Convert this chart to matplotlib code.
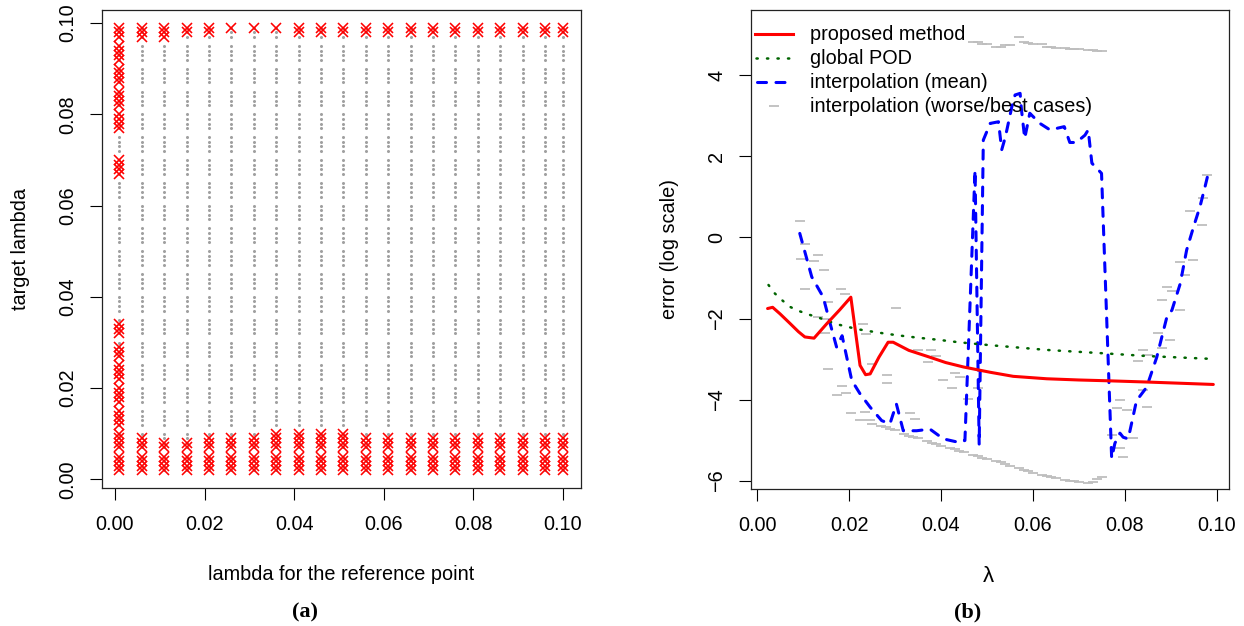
import numpy as np
import matplotlib
matplotlib.use("Agg")
import matplotlib.pyplot as plt

plt.rcParams['font.family'] = ['Liberation Sans', 'DejaVu Sans']
plt.rcParams['font.size'] = 14.3

W, H = 1244, 626

# ---------------- panel (a) data ----------------
ref_lambda = [0.001, 0.006, 0.011, 0.016, 0.021, 0.026, 0.031, 0.036, 0.041, 0.046,
              0.051, 0.056, 0.061, 0.066, 0.071, 0.076, 0.081, 0.086, 0.091, 0.096, 0.100]
# target lambdas: 0.002 ... 0.099, reference values excluded
target_lambda = [round(0.001 * k, 3) for k in range(2, 100) if (k - 1) % 5 != 0]
# upper limit of the red block at the bottom of each column
low_block_top = [0.029, 0.009, 0.008, 0.008, 0.009, 0.009, 0.009, 0.010, 0.010, 0.010,
                 0.010, 0.009, 0.009, 0.009, 0.009, 0.009, 0.009, 0.009, 0.009, 0.009, 0.009]
# lower limit of the red block at the top of each column
high_block_bottom = [0.077, 0.097, 0.097, 0.098, 0.098, 0.099, 0.099, 0.099, 0.098, 0.098,
                     0.098, 0.098, 0.098, 0.098, 0.098, 0.098, 0.098, 0.098, 0.098, 0.098, 0.098]
# extra red blocks in the first column
extra_blocks_first = [(0.032, 0.034), (0.067, 0.070)]

# ---------------- panel (b) data ----------------
proposed_x = [0.0023, 0.0034, 0.0050, 0.0072, 0.0090, 0.0104, 0.0124, 0.0152, 0.0180, 0.0204,
              0.0224, 0.0236, 0.0246, 0.0265, 0.0285, 0.0296, 0.0330, 0.0376, 0.0410, 0.0449,
              0.0507, 0.0557, 0.0630, 0.0700, 0.0764, 0.0847, 0.0920, 0.0992]
proposed_y = [-1.75, -1.72, -1.88, -2.12, -2.32, -2.45, -2.48, -2.12, -1.78, -1.47,
              -3.15, -3.38, -3.36, -2.95, -2.58, -2.58, -2.78, -2.95, -3.08, -3.19,
              -3.32, -3.42, -3.48, -3.51, -3.53, -3.56, -3.59, -3.62]

pod_x = [0.0025, 0.0038, 0.0054, 0.0072, 0.0091, 0.0113, 0.0133, 0.0175, 0.0219, 0.0262,
         0.0306, 0.0351, 0.0394, 0.0438, 0.0504, 0.0630, 0.0764, 0.0847, 0.0988]
pod_y = [-1.17, -1.37, -1.54, -1.71, -1.81, -1.90, -1.97, -2.14, -2.26, -2.34,
         -2.41, -2.47, -2.52, -2.58, -2.65, -2.77, -2.86, -2.92, -2.99]

interp_x = [0.0093, 0.0119, 0.0144, 0.0159, 0.0173, 0.0185, 0.0206, 0.0224, 0.0246, 0.0271,
            0.0289, 0.0303, 0.0318, 0.0347, 0.0376, 0.0405, 0.0440, 0.0452, 0.0474, 0.0483,
            0.0492, 0.0507, 0.0525, 0.0532, 0.0540, 0.0554, 0.0561, 0.0572, 0.0575, 0.0582,
            0.0593, 0.0615, 0.0637, 0.0668, 0.0680, 0.0694, 0.0713, 0.0720, 0.0728, 0.0749,
            0.0771, 0.0778, 0.0789, 0.0796, 0.0807, 0.0825, 0.0847, 0.0869, 0.0891, 0.0902,
            0.0920, 0.0934, 0.0949, 0.0963, 0.0974, 0.0981]
interp_y = [0.10, -0.97, -1.47, -2.12, -2.70, -2.42, -3.52, -3.85, -4.18, -4.51,
            -4.59, -4.10, -4.76, -4.76, -4.72, -4.96, -5.05, -5.00, 1.66, -5.11,
            2.40, 2.81, 2.85, 2.16, 2.48, 3.22, 3.51, 3.55, 3.14, 2.44,
            3.06, 2.81, 2.65, 2.73, 2.34, 2.34, 2.52, 2.65, 1.83, 1.58,
            -5.44, -5.07, -4.82, -4.92, -4.96, -4.02, -3.69, -2.95, -1.96, -1.79,
            -1.14, -0.31, 0.26, 0.76, 1.25, 1.58]

worst_x = [0.0093, 0.0104, 0.0133, 0.0123, 0.0145, 0.0183, 0.0191, 0.0303, 0.0155, 0.0151,
           0.0231, 0.0238, 0.0351, 0.0379, 0.0390, 0.0372, 0.0249, 0.0430, 0.0441, 0.0282,
           0.0282, 0.0405, 0.0423, 0.0481, 0.0458, 0.0333, 0.0343,
           0.047, 0.048, 0.049, 0.050, 0.052, 0.053, 0.054, 0.055, 0.057, 0.058,
           0.059, 0.060, 0.062, 0.063, 0.064, 0.065, 0.067, 0.068, 0.069, 0.070,
           0.072, 0.073, 0.074, 0.075,
           0.0782, 0.0789, 0.0804, 0.0829, 0.0840, 0.0851, 0.0872, 0.0880, 0.0891, 0.0902,
           0.0920, 0.0930, 0.0941, 0.0947, 0.0967, 0.0969, 0.0978]
worst_y = [0.41, -0.15, -0.42, -0.59, -0.81, -1.28, -1.38, -1.74, -1.59, -2.00,
           -2.14, -2.37, -2.76, -2.76, -2.91, -3.07, -3.11, -3.34, -3.44, -3.38,
           -3.59, -3.50, -3.71, -3.71, -3.99, -4.33, -4.47,
           4.82, 4.81, 4.77, 4.77, 4.70, 4.68, 4.74, 4.74, 4.95, 4.82,
           4.80, 4.77, 4.77, 4.70, 4.70, 4.66, 4.66, 4.64, 4.64, 4.64,
           4.62, 4.61, 4.60, 4.60,
           -4.21, -4.00, -4.25, -3.03, -2.77, -2.89, -2.36, -1.54, -1.21, -1.33,
           -0.60, -0.92, 0.64, -0.55, 0.31, 0.97, 1.54]

best_x = [0.0096, 0.0104, 0.0133, 0.0148, 0.0154, 0.0173, 0.0184, 0.0194, 0.0204, 0.0224,
          0.0235, 0.0246,
          0.025, 0.027, 0.028, 0.029, 0.030, 0.032, 0.033, 0.034, 0.035, 0.037,
          0.038, 0.039, 0.040, 0.042, 0.043, 0.044, 0.045, 0.047, 0.048, 0.049,
          0.050, 0.052, 0.053, 0.054, 0.055, 0.057, 0.058, 0.059, 0.060, 0.062,
          0.063, 0.064, 0.065, 0.067, 0.068, 0.069, 0.070, 0.072, 0.073, 0.074, 0.075,
          0.0771, 0.0789, 0.0796, 0.0818, 0.0840, 0.0847, 0.0880, 0.0898, 0.0920]
best_y = [-0.54, -1.28, -1.96, -2.35, -3.25, -3.88, -3.66, -3.84, -4.32, -4.49,
          -4.31, -4.49,
          -4.59, -4.64, -4.68, -4.72, -4.74, -4.84, -4.88, -4.91, -4.94, -5.01,
          -5.05, -5.09, -5.13, -5.19, -5.21, -5.25, -5.29, -5.36, -5.39, -5.43,
          -5.46, -5.50, -5.54, -5.58, -5.62, -5.68, -5.73, -5.76, -5.79, -5.85,
          -5.87, -5.90, -5.93, -5.97, -5.99, -6.01, -6.03, -6.04, -6.02, -5.95, -5.90,
          -4.86, -5.19, -5.40, -4.95, -3.76, -4.17, -2.73, -2.52, -1.79]

legend_labels = ["proposed method", "global POD", "interpolation (mean)",
                 "interpolation (worse/best cases)"]

# ---------------- styles ----------------
RED = "#FF0000"
BLUE = "#0000FF"
GREEN = "#006400"
GRAY = "#BEBEBE"
DOTGRAY = "#A0A0A0"
TICK_LEN = 8.4
TICK_W = 0.8


def fx(px):
    return px / W


def fy(py):
    return 1 - py / H


fig = plt.figure(figsize=(W / 100, H / 100), dpi=100)

# ================= panel (a) =================
L1, R1, T1, B1 = 101.7, 580.7, 10.0, 488.0
ax1 = fig.add_axes([fx(L1), fy(B1), (R1 - L1) / W, (B1 - T1) / H])

tgt = np.array(target_lambda)
for i, xr in enumerate(ref_lambda):
    ax1.plot(np.full(len(tgt), xr), tgt, linestyle="none", marker="o", markersize=2.2,
             markeredgewidth=0, color=DOTGRAY, zorder=2)
    mask = (tgt <= low_block_top[i] + 1e-9) | (tgt >= high_block_bottom[i] - 1e-9)
    if i == 0:
        for lo, hi in extra_blocks_first:
            mask |= (tgt >= lo - 1e-9) & (tgt <= hi + 1e-9)
    ax1.plot(np.full(mask.sum(), xr), tgt[mask], linestyle="none", marker="x",
             markersize=7.4, markeredgewidth=1.15, color=RED, zorder=3)

ax1.set_xlim(0.001 - 0.04 * 0.099, 0.100 + 0.04 * 0.099)
ax1.set_ylim(0.002 - 0.04 * 0.097, 0.099 + 0.04 * 0.097)
ticks_a = [0.00, 0.02, 0.04, 0.06, 0.08, 0.10]
ax1.set_xticks(ticks_a)
ax1.set_xticklabels([f"{t:.2f}" for t in ticks_a])
ax1.set_yticks(ticks_a)
ax1.set_yticklabels([f"{t:.2f}" for t in ticks_a], rotation=90, va="center", ha="right")

# ================= panel (b) =================
L2, R2, T2, B2 = 750.7, 1229.0, 10.0, 489.0
ax2 = fig.add_axes([fx(L2), fy(B2), (R2 - L2) / W, (B2 - T2) / H])

ax2.plot(worst_x, worst_y, linestyle="none", marker="_", markersize=7.4,
         markeredgewidth=1.3, color=GRAY, zorder=1)
ax2.plot(best_x, best_y, linestyle="none", marker="_", markersize=7.4,
         markeredgewidth=1.3, color=GRAY, zorder=1)
blue_line, = ax2.plot(interp_x, interp_y, color=BLUE, linewidth=2.2, zorder=2,
                      dashes=(2.95, 3.1), dash_capstyle="round", solid_joinstyle="round")
green_line, = ax2.plot(pod_x, pod_y, color=GREEN, linewidth=1.8, zorder=3,
                       dashes=(0.5, 3.7), dash_capstyle="round")
red_line, = ax2.plot(proposed_x, proposed_y, color=RED, linewidth=2.2, zorder=4,
                     solid_joinstyle="round", solid_capstyle="round")

ax2.set_xlim(-0.00137, 0.10261)
ax2.set_ylim(-6.195, 5.603)
ax2.set_xticks(ticks_a)
ax2.set_xticklabels([f"{t:.2f}" for t in ticks_a])
ticks_b = [-6, -4, -2, 0, 2, 4]
ax2.set_yticks(ticks_b)
ax2.set_yticklabels([str(t).replace("-", "\u2212") for t in ticks_b],
                    rotation=90, va="center", ha="right")

for ax in (ax1, ax2):
    for s in ax.spines.values():
        s.set_linewidth(0.9)
        s.set_color("#222222")
    ax.tick_params(axis="both", direction="out", length=TICK_LEN, width=TICK_W,
                   colors="black", labelsize=14.3)
    ax.tick_params(axis="x", pad=11.0)
    ax.tick_params(axis="y", pad=9.3)

# ---- legend (manual, R-style, no box) ----
def axx(px):
    return (px - L2) / (R2 - L2)


def axy(py):
    return (B2 - py) / (B2 - T2)


rows = [34, 58, 82, 106]
tr = ax2.transAxes
ax2.plot([axx(755), axx(793)], [axy(rows[0])] * 2, color=RED, linewidth=2.2,
         transform=tr, clip_on=False)
ax2.plot([axx(756), axx(793)], [axy(rows[1])] * 2, color=GREEN, linewidth=1.8,
         dashes=(0.5, 3.7), dash_capstyle="round", transform=tr, clip_on=False)
ax2.plot([axx(756.5), axx(793)], [axy(rows[2])] * 2, color=BLUE, linewidth=2.2,
         dashes=(2.95, 3.1), dash_capstyle="round", transform=tr, clip_on=False)
ax2.plot([axx(774)], [axy(rows[3])], linestyle="none", marker="_", markersize=7.4,
         markeredgewidth=1.3, color=GRAY, transform=tr, clip_on=False)
for r, lab in zip(rows, legend_labels):
    ax2.text(axx(810), axy(r + 0.8), lab, transform=tr, ha="left", va="center",
             fontsize=14.3, color="black")

# ---- axis titles and panel captions ----
fig.text(fx(341), fy(575), "lambda for the reference point", ha="center", va="center",
         fontsize=14.3)
fig.text(fx(21), fy(249), "target lambda", ha="center", va="center", rotation=90,
         fontsize=14.3)
fig.text(fx(988), fy(577), "\u03bb", ha="center", va="center", fontsize=16)
fig.text(fx(670), fy(249), "error (log scale)", ha="center", va="center", rotation=90,
         fontsize=14.3)
fig.text(fx(305), fy(612), "(a)", ha="center", va="center", fontsize=16,
         family="Liberation Serif", weight="bold")
fig.text(fx(968), fy(612), "(b)", ha="center", va="center", fontsize=16,
         family="Liberation Serif", weight="bold")

fig.savefig("out.png", dpi=100)
